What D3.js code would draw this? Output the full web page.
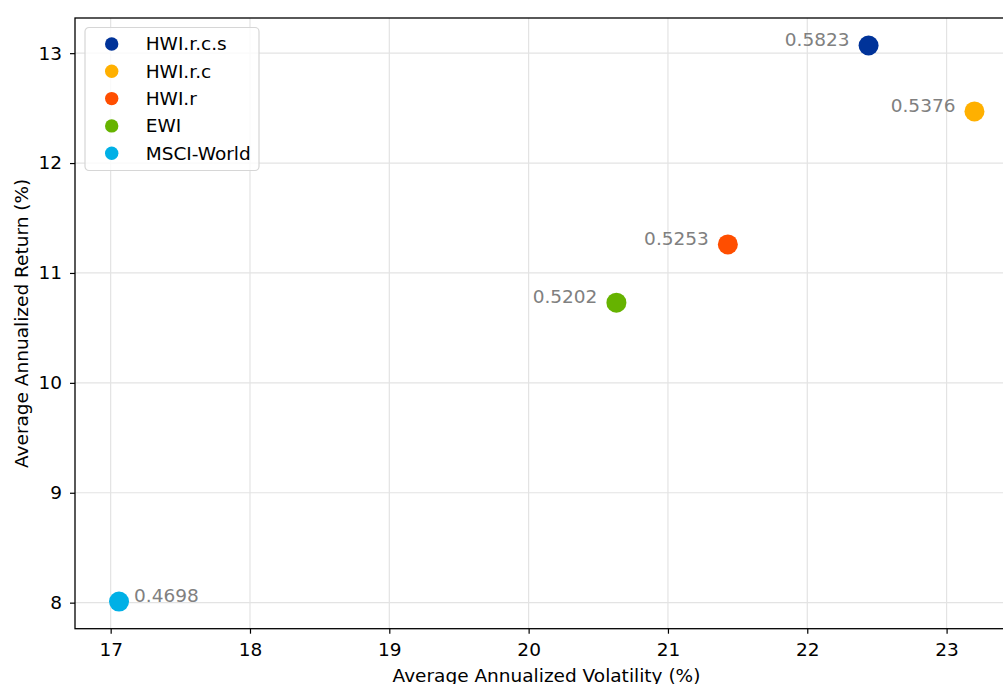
<!DOCTYPE html>
<html>
<head>
<meta charset="utf-8">
<script src="https://cdn.jsdelivr.net/npm/d3@7"></script>
<style>
  body { margin: 0; background: #fff; }
  svg { display: block; font-family: "DejaVu Sans", sans-serif; }
</style>
</head>
<body>
<svg id="chart" width="1003" height="684"></svg>
<script>
// data
const names = ["HWI.r.c.s", "HWI.r.c", "HWI.r", "EWI", "MSCI-World"];
const volatility = [22.44, 23.20, 21.43, 20.63, 17.06];
const returns = [13.07, 12.47, 11.26, 10.73, 8.01];
const sharpe = ["0.5823", "0.5376", "0.5253", "0.5202", "0.4698"];
const colors = ["#003399", "#ffb000", "#ff4e00", "#66b300", "#00b0e6"];
const xTicks = [17, 18, 19, 20, 21, 22, 23];
const yTicks = [8, 9, 10, 11, 12, 13];

const data = names.map((n, i) => ({
  name: n, vol: volatility[i], ret: returns[i], label: sharpe[i], color: colors[i]
}));

const svg = d3.select("#chart");
const pL = 75, pT = 18, pR = 1006.5, pB = 628.7;
const fs = "18.5px";

const x = d3.scaleLinear().domain([16.744, 23.43]).range([pL, pR]);
const y = d3.scaleLinear().domain([7.763, 13.32]).range([pB, pT]);

// grid
const grid = svg.append("g");
grid.selectAll(".gx").data(xTicks).join("line")
  .attr("x1", d => x(d)).attr("x2", d => x(d))
  .attr("y1", pT).attr("y2", pB)
  .attr("stroke", "#e3e3e3").attr("stroke-width", 1.2);
grid.selectAll(".gy").data(yTicks).join("line")
  .attr("x1", pL).attr("x2", pR)
  .attr("y1", d => y(d)).attr("y2", d => y(d))
  .attr("stroke", "#e3e3e3").attr("stroke-width", 1.2);

// axes
const xAxis = svg.append("g")
  .attr("transform", `translate(0,${pB})`)
  .call(d3.axisBottom(x).tickValues(xTicks).tickSize(5).tickPadding(9).tickFormat(d3.format("d")));
const yAxis = svg.append("g")
  .attr("transform", `translate(${pL},0)`)
  .call(d3.axisLeft(y).tickValues(yTicks).tickSize(5).tickPadding(8).tickFormat(d3.format("d")));

[xAxis, yAxis].forEach(a => {
  a.select(".domain").remove();
  a.selectAll(".tick line").attr("stroke", "#000").attr("stroke-width", 1.2);
  a.selectAll(".tick text").attr("fill", "#000")
    .style("font-size", fs).style("font-family", "DejaVu Sans");
});

// frame
svg.append("rect")
  .attr("x", pL).attr("y", pT)
  .attr("width", pR - pL).attr("height", pB - pT)
  .attr("fill", "none").attr("stroke", "#000").attr("stroke-width", 1.3);

// points
svg.append("g").selectAll("circle").data(data).join("circle")
  .attr("cx", d => x(d.vol)).attr("cy", d => y(d.ret))
  .attr("r", 10).attr("fill", d => d.color);

// sharpe labels
svg.append("g").selectAll("text").data(data).join("text")
  .attr("x", d => d.name === "MSCI-World" ? x(d.vol) + 15 : x(d.vol) - 19)
  .attr("y", d => y(d.ret) - 6)
  .attr("dy", "0.35em")
  .attr("text-anchor", d => d.name === "MSCI-World" ? "start" : "end")
  .attr("fill", "#808080")
  .style("font-size", fs)
  .text(d => d.label);

// axis titles
svg.append("text")
  .attr("x", 546.5).attr("y", 681.5)
  .attr("text-anchor", "middle").style("font-size", fs)
  .text("Average Annualized Volatility (%)");
svg.append("text")
  .attr("transform", `translate(27.5,${(pT + pB) / 2}) rotate(-90)`)
  .attr("text-anchor", "middle").style("font-size", fs)
  .text("Average Annualized Return (%)");

// legend
const lg = svg.append("g").attr("transform", "translate(85,27.5)");
lg.append("rect")
  .attr("width", 174).attr("height", 143).attr("rx", 4)
  .attr("fill", "#fff").attr("fill-opacity", 0.8)
  .attr("stroke", "#d6d6d6").attr("stroke-width", 1.2);
const rows = lg.selectAll(".row").data(data).join("g")
  .attr("transform", (d, i) => `translate(0,${16.5 + i * 27.3})`);
rows.append("circle").attr("cx", 26.7).attr("r", 6.7).attr("fill", d => d.color);
rows.append("text").attr("x", 60.7).attr("dy", "0.35em")
  .style("font-size", fs).text(d => d.name);
</script>
</body>
</html>
